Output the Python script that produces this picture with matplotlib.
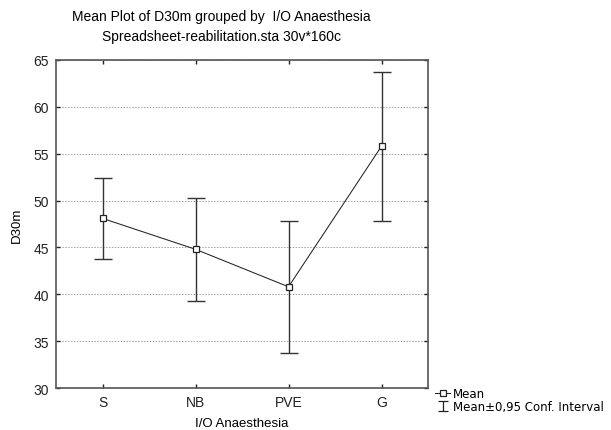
import matplotlib
matplotlib.use('Agg')
import matplotlib.pyplot as plt
from matplotlib.lines import Line2D
from matplotlib.path import Path

plt.rcParams['font.family'] = ['Liberation Sans', 'DejaVu Sans']

groups = ['S', 'NB', 'PVE', 'G']
means = [48.1, 44.8, 40.8, 55.8]
ci_low = [43.8, 39.3, 33.7, 47.8]
ci_high = [52.4, 50.3, 47.8, 63.7]
yticks = [30, 35, 40, 45, 50, 55, 60, 65]

fig = plt.figure(figsize=(6.11, 4.31), dpi=100)
ax = fig.add_axes([0.0917, 0.0974, 0.6088, 0.7611])

x = list(range(len(groups)))
err_lo = [m - l for m, l in zip(means, ci_low)]
err_hi = [h - m for m, h in zip(means, ci_high)]

ax.errorbar(x, means, yerr=[err_lo, err_hi], fmt='none', ecolor='#333333',
            elinewidth=1.0, capsize=6.8, capthick=1.0, zorder=3)
ax.plot(x, means, color='#222222', lw=0.75, marker='s', ms=4.3,
        mfc='white', mec='#222222', mew=0.9, zorder=4)

ax.set_xlim(-0.5, 3.5)
ax.set_ylim(30, 65)
ax.set_xticks(x)
ax.set_xticklabels(groups)
ax.set_yticks(yticks)
ax.yaxis.grid(True, linestyle=(0, (1.5, 1.5)), color='#a0a0a0', lw=0.7)
ax.set_axisbelow(True)
ax.tick_params(direction='in', length=3, width=1, labelsize=10,
               top=True, right=True, pad=5, colors='#222222')
for s in ax.spines.values():
    s.set_color('#555555')
    s.set_linewidth(1.2)

ax.set_xlabel('I/O Anaesthesia', fontsize=9.5, labelpad=5.5)
ax.set_ylabel('D30m', fontsize=9.5, labelpad=8)

fig.text(0.362, 0.96, 'Mean Plot of D30m grouped by  I/O Anaesthesia',
         ha='center', va='center', fontsize=10)
fig.text(0.362, 0.914, 'Spreadsheet-reabilitation.sta 30v*160c',
         ha='center', va='center', fontsize=10)

# legend proxies
ci_path = Path([(-1, -1), (1, -1), (0, -1), (0, 1), (-1, 1), (1, 1)],
               [Path.MOVETO, Path.LINETO, Path.MOVETO, Path.LINETO,
                Path.MOVETO, Path.LINETO])
h_mean = Line2D([], [], color='#222222', lw=0.75, marker='s', ms=4,
                mfc='white', mec='#222222', mew=0.9)
h_ci = Line2D([], [], ls='none', marker=ci_path, ms=7.2, mec='#222222',
              mfc='none', mew=0.9)
fig.legend([h_mean, h_ci], ['Mean', 'Mean\u00b10,95 Conf. Interval'],
           loc='upper left', bbox_to_anchor=(0.712, 0.0998),
           frameon=False, prop={'family': 'DejaVu Sans', 'size': 8.5},
           handlelength=1.27, handletextpad=0.25,
           labelspacing=0.0, borderpad=0.0, borderaxespad=0.0)

fig.savefig('out.png', dpi=100)
